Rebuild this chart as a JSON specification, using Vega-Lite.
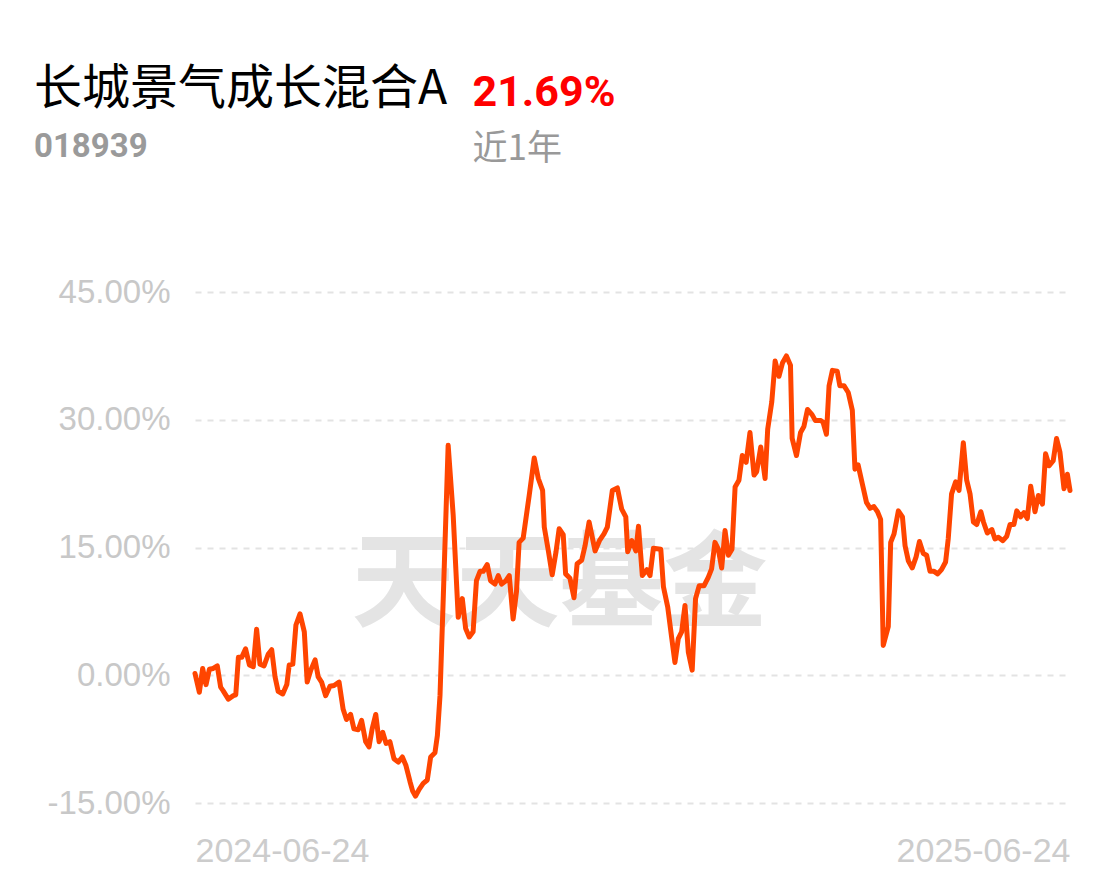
{
  "$schema": "https://vega.github.io/schema/vega-lite/v6.json",
  "width": 875,
  "height": 511,
  "autosize": {"type": "none"},
  "padding": {"left": 195, "top": 292, "right": 46, "bottom": 78},
  "background": "#ffffff",
  "config": {"view": {"stroke": null}},
  "title": {
    "text": "长城景气成长混合A",
    "subtitle": "018939",
    "anchor": "start",
    "frame": "group",
    "dx": -161,
    "dy": 97,
    "font": "Noto Sans CJK SC",
    "fontSize": 48,
    "fontWeight": "normal",
    "color": "#000000",
    "subtitleFont": "Roboto",
    "subtitleFontSize": 33,
    "subtitleFontWeight": "bold",
    "subtitleColor": "#9a9a9a",
    "subtitlePadding": 17
  },
  "datasets": {
    "wm": [{"d": 152, "v": 10.2, "label": "天天基金"}],
    "nav": [
      {"d": 0, "v": 0.2}, {"d": 1.8, "v": -2.0}, {"d": 3.2, "v": 0.8}, {"d": 4.6, "v": -1.1}, {"d": 6.0, "v": 0.7},
      {"d": 7.6, "v": 0.8}, {"d": 9.3, "v": 1.1}, {"d": 10.7, "v": -1.4}, {"d": 11.7, "v": -1.8}, {"d": 13.9, "v": -2.8},
      {"d": 16.0, "v": -2.4}, {"d": 17.0, "v": -2.3}, {"d": 18.1, "v": 2.1}, {"d": 19.5, "v": 2.1}, {"d": 21.1, "v": 3.1},
      {"d": 22.7, "v": 1.2}, {"d": 24.3, "v": 1.0}, {"d": 25.7, "v": 5.4}, {"d": 27.1, "v": 1.3}, {"d": 28.8, "v": 1.1},
      {"d": 30.6, "v": 2.5}, {"d": 32.0, "v": 3.0}, {"d": 33.4, "v": -0.2}, {"d": 34.7, "v": -1.9}, {"d": 36.6, "v": -2.2},
      {"d": 38.3, "v": -1.1}, {"d": 39.3, "v": 1.2}, {"d": 40.8, "v": 1.3}, {"d": 42.1, "v": 5.9}, {"d": 43.8, "v": 7.2},
      {"d": 45.6, "v": 5.1}, {"d": 46.8, "v": -0.8}, {"d": 48.3, "v": 0.6}, {"d": 50.1, "v": 1.8}, {"d": 51.4, "v": -0.2},
      {"d": 52.8, "v": -0.8}, {"d": 54.5, "v": -2.4}, {"d": 56.3, "v": -1.3}, {"d": 58.0, "v": -1.2}, {"d": 60.1, "v": -0.8},
      {"d": 61.8, "v": -4.0}, {"d": 63.2, "v": -5.2}, {"d": 64.9, "v": -4.6}, {"d": 66.3, "v": -6.3}, {"d": 68.1, "v": -6.4},
      {"d": 69.5, "v": -5.3}, {"d": 71.2, "v": -7.8}, {"d": 72.6, "v": -8.4}, {"d": 73.9, "v": -6.3}, {"d": 75.4, "v": -4.6},
      {"d": 76.8, "v": -7.8}, {"d": 78.3, "v": -6.7}, {"d": 79.7, "v": -8.0}, {"d": 81.3, "v": -7.8}, {"d": 83.0, "v": -9.8},
      {"d": 84.8, "v": -10.2}, {"d": 86.5, "v": -9.6}, {"d": 88.0, "v": -10.6}, {"d": 89.7, "v": -12.5}, {"d": 90.8, "v": -13.6},
      {"d": 92.0, "v": -14.2}, {"d": 93.5, "v": -13.4}, {"d": 95.2, "v": -12.7}, {"d": 96.9, "v": -12.3}, {"d": 98.3, "v": -9.6},
      {"d": 100.1, "v": -9.1}, {"d": 101.1, "v": -7.1}, {"d": 102.2, "v": -2.4}, {"d": 103.6, "v": 9.4}, {"d": 105.6, "v": 27.0},
      {"d": 107.7, "v": 18.8}, {"d": 109.8, "v": 6.8}, {"d": 111.5, "v": 9.0}, {"d": 112.9, "v": 5.5}, {"d": 114.4, "v": 4.5},
      {"d": 116.0, "v": 5.1}, {"d": 117.4, "v": 11.1}, {"d": 118.9, "v": 12.2}, {"d": 120.2, "v": 12.2}, {"d": 121.9, "v": 13.0},
      {"d": 123.3, "v": 11.1}, {"d": 125.1, "v": 10.7}, {"d": 126.5, "v": 11.7}, {"d": 127.9, "v": 10.7}, {"d": 129.7, "v": 11.1},
      {"d": 131.1, "v": 11.7}, {"d": 132.7, "v": 6.6}, {"d": 134.1, "v": 9.8}, {"d": 135.2, "v": 15.6}, {"d": 136.9, "v": 16.1},
      {"d": 139.4, "v": 21.1}, {"d": 141.5, "v": 25.5}, {"d": 143.2, "v": 23.1}, {"d": 145.0, "v": 21.7}, {"d": 145.7, "v": 17.4},
      {"d": 147.4, "v": 14.6}, {"d": 149.0, "v": 11.8}, {"d": 150.6, "v": 14.5}, {"d": 151.9, "v": 17.2}, {"d": 153.6, "v": 16.5},
      {"d": 154.6, "v": 11.9}, {"d": 156.4, "v": 11.4}, {"d": 158.1, "v": 9.1}, {"d": 159.4, "v": 13.1}, {"d": 161.3, "v": 13.5},
      {"d": 162.7, "v": 15.2}, {"d": 164.4, "v": 18.0}, {"d": 166.9, "v": 14.6}, {"d": 168.7, "v": 15.8}, {"d": 170.6, "v": 16.6},
      {"d": 172.0, "v": 17.4}, {"d": 174.1, "v": 21.7}, {"d": 176.2, "v": 22.0}, {"d": 178.0, "v": 19.5}, {"d": 179.7, "v": 18.6},
      {"d": 180.5, "v": 14.5}, {"d": 182.2, "v": 15.8}, {"d": 183.9, "v": 14.6}, {"d": 185.0, "v": 17.5}, {"d": 186.6, "v": 11.7},
      {"d": 188.5, "v": 12.4}, {"d": 189.8, "v": 11.7}, {"d": 191.2, "v": 14.9}, {"d": 194.3, "v": 14.8}, {"d": 195.4, "v": 10.4},
      {"d": 197.2, "v": 8.0}, {"d": 198.9, "v": 4.3}, {"d": 200.2, "v": 1.5}, {"d": 201.6, "v": 4.3}, {"d": 203.0, "v": 5.1},
      {"d": 204.4, "v": 8.2}, {"d": 205.8, "v": 2.7}, {"d": 207.4, "v": 0.6}, {"d": 208.8, "v": 9.0}, {"d": 210.3, "v": 10.5},
      {"d": 212.3, "v": 10.5}, {"d": 214.1, "v": 11.5}, {"d": 215.5, "v": 12.5}, {"d": 216.9, "v": 15.6}, {"d": 218.3, "v": 14.8},
      {"d": 219.7, "v": 12.6}, {"d": 221.1, "v": 17.0}, {"d": 222.5, "v": 14.1}, {"d": 224.0, "v": 14.8}, {"d": 225.3, "v": 22.1},
      {"d": 226.9, "v": 22.9}, {"d": 228.3, "v": 25.8}, {"d": 229.9, "v": 25.0}, {"d": 231.5, "v": 28.5}, {"d": 233.2, "v": 23.5},
      {"d": 234.3, "v": 23.9}, {"d": 236.0, "v": 26.8}, {"d": 237.8, "v": 23.1}, {"d": 238.9, "v": 28.9}, {"d": 240.6, "v": 32.1},
      {"d": 242.0, "v": 36.9}, {"d": 243.6, "v": 35.1}, {"d": 245.1, "v": 36.7}, {"d": 246.7, "v": 37.5}, {"d": 248.4, "v": 36.4},
      {"d": 249.1, "v": 27.8}, {"d": 250.9, "v": 25.8}, {"d": 252.6, "v": 28.5}, {"d": 254.0, "v": 29.2}, {"d": 255.5, "v": 31.2},
      {"d": 257.4, "v": 30.6}, {"d": 258.8, "v": 29.9}, {"d": 261.1, "v": 29.9}, {"d": 262.0, "v": 29.7}, {"d": 263.4, "v": 28.3},
      {"d": 264.5, "v": 34.0}, {"d": 265.9, "v": 35.8}, {"d": 267.9, "v": 35.7}, {"d": 269.0, "v": 34.0}, {"d": 270.7, "v": 34.0},
      {"d": 272.5, "v": 33.2}, {"d": 274.2, "v": 31.1}, {"d": 275.3, "v": 24.2}, {"d": 276.6, "v": 24.7}, {"d": 278.5, "v": 22.3},
      {"d": 280.1, "v": 20.3}, {"d": 281.6, "v": 19.6}, {"d": 283.2, "v": 19.8}, {"d": 284.7, "v": 19.2}, {"d": 286.0, "v": 18.3},
      {"d": 287.1, "v": 3.5}, {"d": 289.2, "v": 5.7}, {"d": 290.2, "v": 15.6}, {"d": 291.6, "v": 16.6}, {"d": 293.4, "v": 19.3},
      {"d": 295.1, "v": 18.6}, {"d": 296.2, "v": 15.2}, {"d": 297.6, "v": 13.4}, {"d": 299.2, "v": 12.6}, {"d": 300.8, "v": 13.9},
      {"d": 302.2, "v": 15.7}, {"d": 303.8, "v": 14.3}, {"d": 305.2, "v": 14.1}, {"d": 306.6, "v": 12.2}, {"d": 308.3, "v": 12.2},
      {"d": 309.8, "v": 11.9}, {"d": 311.4, "v": 12.4}, {"d": 313.1, "v": 13.3}, {"d": 314.2, "v": 16.0}, {"d": 315.6, "v": 21.3},
      {"d": 317.3, "v": 22.7}, {"d": 318.7, "v": 21.7}, {"d": 320.5, "v": 27.3}, {"d": 321.9, "v": 22.9}, {"d": 323.3, "v": 21.3},
      {"d": 324.7, "v": 18.0}, {"d": 326.1, "v": 17.7}, {"d": 327.8, "v": 19.2}, {"d": 328.9, "v": 18.0}, {"d": 330.5, "v": 16.7},
      {"d": 332.4, "v": 17.1}, {"d": 333.7, "v": 16.0}, {"d": 335.1, "v": 16.2}, {"d": 337.0, "v": 15.8}, {"d": 338.6, "v": 16.3},
      {"d": 340.0, "v": 17.7}, {"d": 341.6, "v": 17.7}, {"d": 342.8, "v": 19.3}, {"d": 344.4, "v": 18.6}, {"d": 345.8, "v": 19.1},
      {"d": 347.2, "v": 18.4}, {"d": 348.6, "v": 22.2}, {"d": 350.4, "v": 19.2}, {"d": 351.8, "v": 21.1}, {"d": 353.5, "v": 20.1},
      {"d": 354.8, "v": 26.0}, {"d": 356.3, "v": 24.6}, {"d": 358.0, "v": 25.2}, {"d": 359.4, "v": 27.8}, {"d": 360.8, "v": 26.2},
      {"d": 362.5, "v": 21.9}, {"d": 363.9, "v": 23.6}, {"d": 365.0, "v": 21.69}
    ]
  },
  "resolve": {"axis": {"x": "independent", "y": "independent"}},
  "layer": [
    {
      "data": {"name": "wm"},
      "mark": {"type": "text", "font": "Noto Sans CJK SC", "fontWeight": "bold", "fontSize": 104, "color": "#e4e4e4", "align": "center", "baseline": "middle"},
      "encoding": {
        "x": {"field": "d", "type": "quantitative", "scale": {"domain": [0, 365], "nice": false, "zero": false},
          "axis": {"orient": "top", "labels": false, "ticks": false, "domain": false, "grid": false,
            "title": "21.69%", "titleColor": "#ff0000", "titleFont": "Roboto", "titleFontSize": 43, "titleFontWeight": "bold",
            "titleAngle": 0, "titleAlign": "left", "titleBaseline": "alphabetic", "titleX": 277, "titleY": -187, "titleLimit": 0}},
        "y": {"field": "v", "type": "quantitative", "scale": {"domain": [-15, 45], "nice": false, "zero": false},
          "axis": {"orient": "right", "labels": false, "ticks": false, "domain": false, "grid": false,
            "title": "近1年", "titleColor": "#999999", "titleFont": "Noto Sans CJK SC", "titleFontSize": 35, "titleFontWeight": "normal",
            "titleAngle": 0, "titleAlign": "left", "titleBaseline": "alphabetic", "titleX": -598, "titleY": -133, "titleLimit": 0}},
        "text": {"field": "label"}
      }
    },
    {
      "data": {"name": "nav"},
      "mark": {"type": "line", "color": "#ff4500", "strokeWidth": 5, "strokeJoin": "round", "strokeCap": "round"},
      "encoding": {
        "x": {"field": "d", "type": "quantitative", "scale": {"domain": [0, 365], "nice": false, "zero": false},
          "axis": {"orient": "bottom", "values": [0, 365], "labelExpr": "datum.value == 0 ? '2024-06-24' : '2025-06-24'",
            "labelFlush": true, "labelFont": "Liberation Sans", "labelFontSize": 34, "labelColor": "#cccccc", "labelLimit": 0,
            "labelPadding": 31, "ticks": false, "domain": false, "grid": false, "title": null}},
        "y": {"field": "v", "type": "quantitative", "scale": {"domain": [-15, 45], "nice": false, "zero": false},
          "axis": {"orient": "left", "values": [-15, 0, 15, 30, 45], "labelExpr": "(datum.value < 0 ? '-' : '') + format(abs(datum.value), '.2f') + '%'",
            "labelFont": "Liberation Sans", "labelFontSize": 33, "labelColor": "#c8c8c8", "labelPadding": 25,
            "ticks": false, "domain": false, "grid": true, "gridColor": "#e3e3e3", "gridWidth": 2, "gridDash": [6, 6], "title": null}}
      }
    }
  ]
}
